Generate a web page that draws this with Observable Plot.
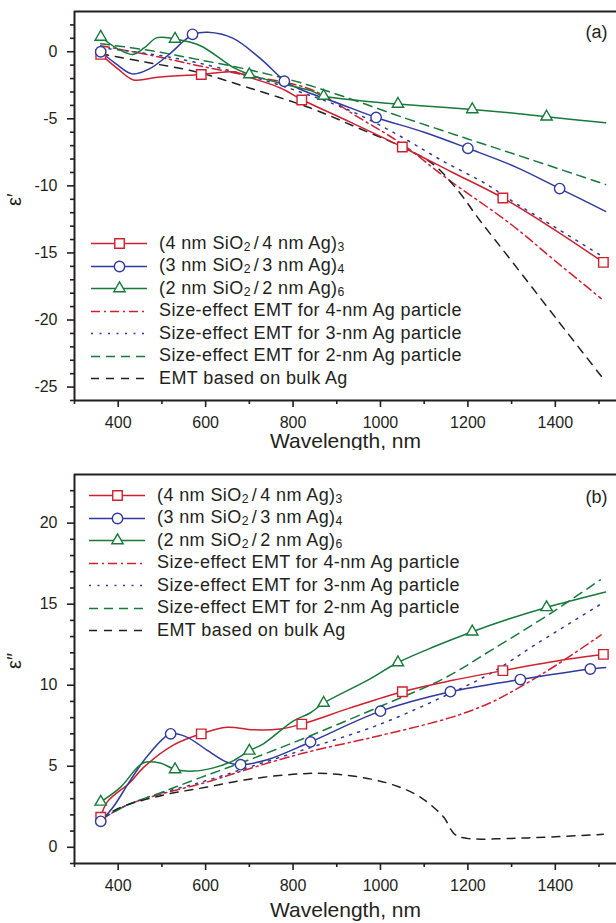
<!DOCTYPE html>
<html><head><meta charset="utf-8">
<script src="https://cdn.jsdelivr.net/npm/d3@7"></script>
<script src="https://cdn.jsdelivr.net/npm/@observablehq/plot@0.6"></script>
<style>
body{margin:0;background:#fff;font-family:"Liberation Sans",Arial,sans-serif;color:#231f20}
.panel{position:relative;width:616px}
.panel svg{display:block}
.legend{position:absolute;font-size:18px;letter-spacing:0.4px}
.row{display:flex;align-items:center;height:22.5px;white-space:nowrap}
.sw{width:56px;height:22px;margin-right:12px;flex:none}
.sw svg{display:block}
sub{font-size:0.68em;vertical-align:baseline;position:relative;top:0.2em;line-height:0}
.sl{margin:0 3px}
</style></head><body>
<div id="chart"></div>
<script>
// ---------- tick values ----------
const wlTicks = [400, 600, 800, 1000, 1200, 1400];
const wlMinor = [300, 500, 700, 900, 1100, 1300, 1500];
const epsRealTicks = [-25, -20, -15, -10, -5, 0];
const epsImagTicks = [0, 5, 10, 15, 20];

// ---------- panel (a): real part ε′ ----------
const a_exp4 = [[360,-0.2],[400,-1.3],[435,-2.1],[490,-1.9],[558,-1.75],[591,-1.7],[663,-1.5],[709,-2.0],[771,-2.7],[822,-3.6],[931,-5.25],[1050,-7.1],[1165,-9.0],[1280,-10.9],[1395,-13.2],[1510,-15.7]];
const a_exp4_marks = [[360,-0.2],[590,-1.7],[820,-3.6],[1050,-7.1],[1280,-10.9],[1510,-15.7]];
const a_exp3 = [[360,0],[395,-0.9],[432,-1.65],[470,-1.3],[520,-0.1],[550,0.8],[572,1.3],[605,1.45],[663,1.0],[725,-0.5],[782,-2.2],[816,-2.8],[900,-3.8],[990,-4.9],[1100,-6.0],[1200,-7.2],[1310,-8.6],[1410,-10.2],[1515,-11.9]];
const a_exp3_marks = [[360,0],[570,1.3],[780,-2.2],[990,-4.9],[1200,-7.2],[1410,-10.2]];
const a_exp2 = [[360,1.1],[400,0.2],[433,-0.2],[460,0.3],[489,1.05],[530,0.95],[588,0.45],[663,-1.17],[700,-1.7],[790,-2.5],[840,-2.9],[870,-3.3],[955,-3.65],[1040,-3.9],[1125,-4.1],[1210,-4.3],[1295,-4.55],[1380,-4.85],[1515,-5.3]];
const a_exp2_marks = [[360,1.1],[530,0.95],[700,-1.7],[870,-3.3],[1040,-3.9],[1210,-4.3],[1380,-4.85]];
const a_emt4 = [[360,0.45],[480,-0.3],[578,-1.0],[700,-1.8],[840,-2.8],[950,-4.9],[1050,-6.9],[1150,-9.4],[1300,-12.9],[1400,-15.6],[1505,-18.4]];
const a_emt3 = [[360,0.3],[480,-0.2],[578,-0.8],[700,-1.8],[816,-3.0],[931,-4.4],[1040,-6.2],[1140,-8.1],[1244,-9.9],[1290,-10.9],[1400,-13.1],[1515,-15.4]];
const a_emt2 = [[360,0.6],[480,0.05],[578,-0.55],[700,-1.35],[816,-2.3],[930,-3.5],[1043,-4.8],[1200,-6.5],[1350,-8.1],[1515,-9.9]];
const a_bulk = [[360,-0.15],[450,-0.7],[578,-1.5],[700,-2.7],[840,-4.2],[950,-5.7],[1050,-7.1],[1121,-8.4],[1176,-10.3],[1228,-12.6],[1300,-15.6],[1400,-19.8],[1515,-24.6]];

// ---------- panel (b): imaginary part ε″ ----------
const b_exp4 = [[360,1.85],[375,2.8],[427,4.0],[457,4.9],[526,6.3],[590,7.0],[649,7.4],[709,7.25],[770,7.3],[820,7.6],[931,8.6],[1050,9.6],[1165,10.3],[1280,10.9],[1427,11.6],[1510,11.9]];
const b_exp4_marks = [[360,1.85],[590,7.0],[820,7.6],[1050,9.6],[1280,10.9],[1510,11.9]];
const b_exp3 = [[360,1.6],[389,2.5],[427,4.1],[466,5.6],[520,7.0],[557,6.8],[603,6.0],[649,5.25],[680,5.1],[741,5.4],[840,6.5],[1000,8.4],[1160,9.6],[1320,10.35],[1480,11.0],[1515,11.1]];
const b_exp3_marks = [[360,1.6],[520,7.0],[680,5.1],[840,6.5],[1000,8.4],[1160,9.6],[1320,10.35],[1480,11.0]];
const b_exp2 = [[360,2.8],[405,3.7],[457,5.2],[496,5.2],[530,4.8],[572,4.7],[618,4.9],[664,5.35],[700,5.95],[733,6.4],[801,7.8],[840,8.3],[870,8.9],[970,10.3],[1040,11.4],[1125,12.4],[1210,13.3],[1295,14.1],[1380,14.8],[1515,15.75]];
const b_exp2_marks = [[360,2.8],[530,4.8],[700,5.95],[870,8.9],[1040,11.4],[1210,13.3],[1380,14.8]];
const b_emt4 = [[360,1.7],[420,2.6],[500,3.3],[600,4.0],[700,4.85],[822,5.8],[1000,6.9],[1160,8.0],[1250,8.9],[1320,9.9],[1400,11.2],[1505,13.1]];
const b_emt3 = [[360,1.7],[420,2.6],[500,3.35],[600,4.1],[700,4.95],[822,6.0],[1000,7.6],[1160,9.5],[1250,10.7],[1360,12.6],[1510,15.1]];
const b_emt2 = [[360,1.7],[420,2.6],[500,3.4],[588,4.3],[700,5.4],[832,6.8],[1000,8.7],[1144,10.4],[1250,12.1],[1393,14.5],[1503,16.5]];
const b_bulk = [[360,1.7],[400,2.4],[500,3.2],[600,3.7],[700,4.2],[800,4.5],[880,4.55],[980,4.2],[1040,3.75],[1085,3.2],[1120,2.5],[1145,1.85],[1170,0.8],[1198,0.55],[1300,0.55],[1400,0.65],[1510,0.8]];

// ---------- legend ----------
const legendLabels = [
  '(4 nm SiO<sub>2</sub><span class="sl">/</span>4 nm Ag)<sub>3</sub>',
  '(3 nm SiO<sub>2</sub><span class="sl">/</span>3 nm Ag)<sub>4</sub>',
  '(2 nm SiO<sub>2</sub><span class="sl">/</span>2 nm Ag)<sub>6</sub>',
  'Size-effect EMT for 4-nm Ag particle',
  'Size-effect EMT for 3-nm Ag particle',
  'Size-effect EMT for 2-nm Ag particle',
  'EMT based on bulk Ag'
];

const RED = "#cf2030", BLUE = "#2f3a9e", GREEN = "#167a3a", BLACK = "#231f20", INK = "#231f20";
const styles = [
  {stroke: RED, dash: null, symbol: "square", r: 5.35},
  {stroke: BLUE, dash: null, symbol: "circle", r: 5.2},
  {stroke: GREEN, dash: null, symbol: "triangle", r: 4.2},
  {stroke: RED, dash: "9,4,2,4", symbol: null},
  {stroke: BLUE, dash: "2,6.5", symbol: null},
  {stroke: GREEN, dash: "9,6", symbol: null},
  {stroke: BLACK, dash: "8,7", symbol: null}
];

const pts = arr => arr.map(([x, y]) => ({x, y}));

function seriesMarks(lines, marks) {
  const out = [];
  [3, 4, 5, 6].forEach(i => {
    const s = styles[i];
    out.push(Plot.line(pts(lines[i]), {x: "x", y: "y", stroke: s.stroke, strokeWidth: 1.5, strokeDasharray: s.dash, curve: "catmull-rom"}));
  });
  [0, 1, 2].forEach(i => {
    const s = styles[i];
    out.push(Plot.line(pts(lines[i]), {x: "x", y: "y", stroke: s.stroke, strokeWidth: 1.5, curve: "catmull-rom"}));
  });
  [0, 1, 2].forEach(i => {
    const s = styles[i];
    out.push(Plot.dot(pts(marks[i]), {x: "x", y: "y", symbol: s.symbol, r: s.r, stroke: s.stroke, fill: "white", strokeWidth: 1.4}));
  });
  return out;
}

function panel(o) {
  return Plot.plot({
    width: 616, height: o.height,
    marginTop: o.marginTop, marginBottom: o.marginBottom, marginLeft: 74, marginRight: 0,
    style: {fontFamily: "'Liberation Sans', Arial, sans-serif", color: INK, background: "white", overflow: "visible"},
    x: {domain: [300, 1540]},
    y: {domain: o.yDomain},
    marks: [
      ...seriesMarks(o.lines, o.marks),
      Plot.ruleX([300], {stroke: INK, strokeWidth: 2}),
      Plot.ruleY(o.yDomain, {stroke: INK, strokeWidth: 2}),
      Plot.axisX({ticks: wlTicks, tickSize: 7, tickPadding: 9, fontSize: 16, label: null, strokeWidth: 1.6, tickFormat: d => String(d)}),
      Plot.axisX({ticks: wlMinor, tickSize: 4, label: null, strokeWidth: 1.6, tickFormat: () => ""}),
      Plot.axisY({ticks: o.yTicks, tickSize: 7, tickPadding: 10, fontSize: 16, label: null, strokeWidth: 1.6, tickFormat: d => String(d)}),
      Plot.axisY({ticks: o.yMinor, tickSize: 4, label: null, strokeWidth: 1.6, tickFormat: () => ""}),
      Plot.text(["Wavelength, nm"], {frameAnchor: "bottom", dy: o.titleDy, fontSize: 21, fill: INK, lineAnchor: "middle"}),
      Plot.text([o.yLabel], {frameAnchor: "left", dx: -60, rotate: -90, fontSize: 20, fill: INK}),
      Plot.text([o.tag], {frameAnchor: "top-right", textAnchor: "end", dx: -9, dy: o.tagDy, fontSize: 18, fill: INK, lineAnchor: "middle"})
    ]
  });
}

function swatch(s) {
  const marks = [Plot.ruleY([0.5], {stroke: s.stroke, strokeWidth: 1.5, strokeDasharray: s.dash})];
  if (s.symbol) marks.push(Plot.dot([0.5], {x: d => d, y: d => d, symbol: s.symbol, r: s.r, stroke: s.stroke, fill: "white", strokeWidth: 1.4}));
  return Plot.plot({width: 56, height: 22, margin: 0, x: {domain: [0, 1], axis: null}, y: {domain: [0, 1], axis: null}, style: {background: "transparent", overflow: "visible"}, marks});
}

function legend(left, top) {
  const div = document.createElement("div");
  div.className = "legend";
  div.style.left = left + "px";
  div.style.top = top + "px";
  legendLabels.forEach((lab, i) => {
    const row = document.createElement("div");
    row.className = "row";
    const sw = document.createElement("div");
    sw.className = "sw";
    sw.appendChild(swatch(styles[i]));
    const t = document.createElement("span");
    t.innerHTML = lab;
    row.appendChild(sw);
    row.appendChild(t);
    div.appendChild(row);
  });
  return div;
}

const root = document.getElementById("chart");

const pa = document.createElement("div");
pa.className = "panel"; pa.style.height = "450px";
pa.appendChild(panel({
  height: 450, marginTop: 11, marginBottom: 50, yDomain: [-26, 3],
  yTicks: epsRealTicks, yMinor: d3.range(-26, 3).filter(v => v % 5 !== 0),
  lines: [a_exp4, a_exp3, a_exp2, a_emt4, a_emt3, a_emt2, a_bulk],
  marks: [a_exp4_marks, a_exp3_marks, a_exp2_marks],
  yLabel: "ε′", tag: "(a)", titleDy: 41, tagDy: 21
}));
pa.appendChild(legend(91, 231.8));
root.appendChild(pa);

const pb = document.createElement("div");
pb.className = "panel"; pb.style.height = "473px";
pb.appendChild(panel({
  height: 473, marginTop: 24, marginBottom: 60, yDomain: [-1, 23],
  yTicks: epsImagTicks, yMinor: d3.range(-1, 23).filter(v => v % 5 !== 0),
  lines: [b_exp4, b_exp3, b_exp2, b_emt4, b_emt3, b_emt2, b_bulk],
  marks: [b_exp4_marks, b_exp3_marks, b_exp2_marks],
  yLabel: "ε″", tag: "(b)", titleDy: 47, tagDy: 23
}));
pb.appendChild(legend(89, 33.8));
root.appendChild(pb);
</script>
</body></html>
